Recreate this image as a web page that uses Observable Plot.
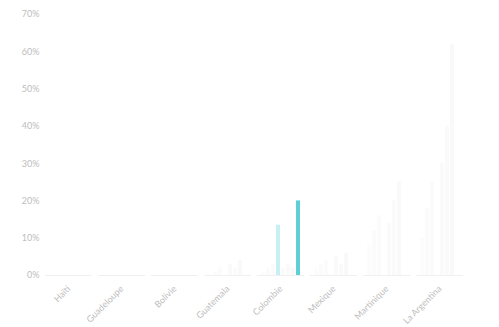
<!DOCTYPE html>
<html>
<head>
<meta charset="utf-8">
<script src="https://cdn.jsdelivr.net/npm/d3@7"></script>
<script src="https://cdn.jsdelivr.net/npm/@observablehq/plot@0.6"></script>
<style>
  html, body { margin: 0; padding: 0; background: #fff; }
  #chart { width: 499px; height: 327px; }
</style>
</head>
<body>
<div id="chart"></div>
<script>
const countries = ["Haïti", "Guadeloupe", "Bolivie", "Guatemala", "Colombie", "Mexique", "Martinique", "La Argentina"];
const series = ["2013", "2014", "2015", "2016", "2017", "2018", "2019", "2020"];
const seriesColors = ["#fcfcfc", "#fbfbfb", "#fbfbfb", "#c6f0f6", "#fafafa", "#fafafa", "#f9f9f9", "#5ccfd7"];
// values [country][series] in %
const values = [
  [0, 0, 0, 0, 0, 0, 0, 0],
  [0, 0, 0, 0, 0, 0, 0, 0],
  [0, 0, 0, 0, 0, 0, 0, 0],
  [0, 1, 2, 0, 3, 2, 4, 0],
  [1, 2, 3, 13.5, 2, 3, 2, 20],
  [2, 3, 4, 0, 5, 3, 6, 0],
  [8, 12, 16, 0, 14, 20, 25, 0],
  [10, 18, 25, 0, 30, 40, 62, 0]
];
const yTicks = [0, 10, 20, 30, 40, 50, 60, 70];

const data = [];
countries.forEach((c, i) => series.forEach((s, j) => data.push({country: c, series: s, value: values[i][j]})));

const chart = Plot.plot({
  width: 499,
  height: 327,
  marginTop: 14,
  marginBottom: 52,
  marginLeft: 42,
  marginRight: 34,
  style: {fontFamily: "Lato, 'Open Sans', sans-serif", fontSize: "9px", color: "#bdbdbd", background: "#fff"},
  fx: {domain: countries, padding: 0.12, label: null, tickRotate: -45, tickSize: 0, axis: "bottom"},
  x: {domain: series, axis: null, padding: 0.15},
  y: {domain: [0, 70], ticks: yTicks, tickFormat: d => d + "%", label: null, tickSize: 0, tickPadding: 6},
  color: {domain: series, range: seriesColors},
  marks: [
    Plot.barY(data, {fx: "country", x: "series", y: "value", fill: "series"}),
    Plot.ruleY([0], {stroke: "#f0f0f0"})
  ]
});
document.getElementById("chart").appendChild(chart);
</script>
</body>
</html>
